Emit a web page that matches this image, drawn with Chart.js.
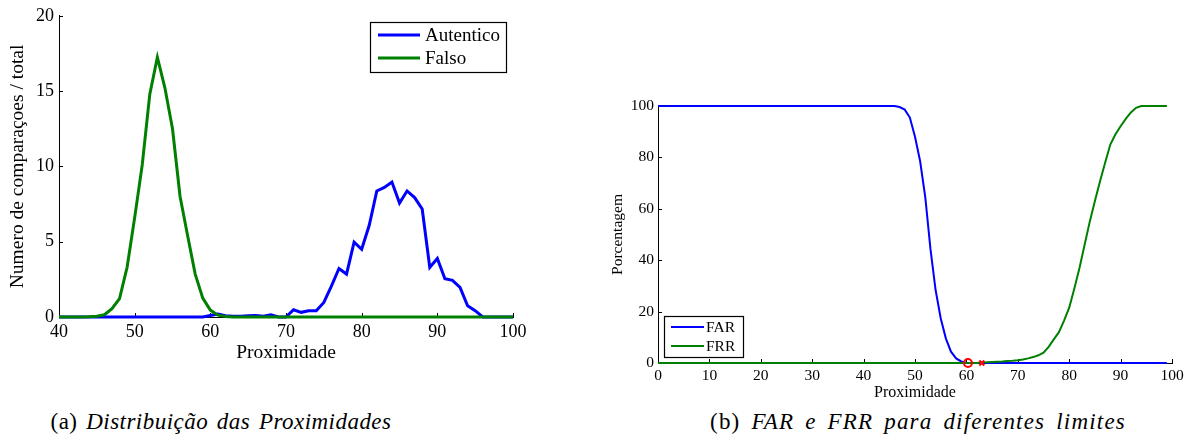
<!DOCTYPE html>
<html><head><meta charset="utf-8">
<script src="https://cdn.jsdelivr.net/npm/chart.js@4.4.0/dist/chart.umd.min.js"></script>
<style>
html,body{margin:0;padding:0;background:#fff;width:1194px;height:448px;overflow:hidden;position:relative;font-family:"Liberation Serif",serif;}
#ca{position:absolute;left:0;top:0;}
#cb{position:absolute;left:597px;top:0;}
.cap{position:absolute;top:407px;font-family:"Liberation Serif",serif;font-size:23px;line-height:30px;letter-spacing:0.47px;word-spacing:2.5px;white-space:nowrap;transform:translateX(-50%);color:#000;}
.cap.b{letter-spacing:1.2px;word-spacing:4px;}
.cap i{font-style:italic;}
</style></head>
<body>
<canvas id="ca" width="597" height="369"></canvas>
<canvas id="cb" width="597" height="406"></canvas>
<div class="cap" style="left:221px">(a) <i>Distribuição das Proximidades</i></div>
<div class="cap b" style="left:918px">(b) <i>FAR e FRR para diferentes limites</i></div>
<script>
// ---------- data: chart (a) ----------
const proxA = [40,41,42,43,44,45,46,47,48,49,50,51,52,53,54,55,56,57,58,59,60,61,62,63,64,65,66,67,68,69,70,71,72,73,74,75,76,77,78,79,80,81,82,83,84,85,86,87,88,89,90,91,92,93,94,95,96,97,98,99,100];
const autentico = [0,0,0,0,0,0,0,0,0,0,0,0,0,0,0,0,0,0,0,0,0.1,0.2,0.08,0.05,0.05,0.08,0.1,0.05,0.15,0,0,0.48,0.31,0.42,0.42,0.97,2.05,3.22,2.85,4.97,4.5,6.09,8.37,8.6,8.96,7.57,8.37,7.93,7.17,3.29,3.89,2.54,2.43,1.97,0.75,0.42,0,0,0,0,0];
const falso = [0,0,0,0,0.01,0.05,0.15,0.55,1.22,3.3,6.6,10.1,14.8,17.25,15.2,12.5,8.0,5.4,2.85,1.25,0.46,0.12,0.03,0,0,0,0,0,0,0,0,0,0,0,0,0,0,0,0,0,0,0,0,0,0,0,0,0,0,0,0,0,0,0,0,0,0,0,0,0,0];
const labelsA = ['Autentico','Falso'];
const titlesA = {x:'Proximidade', y:'Numero de comparaçoes / total'};

// ---------- data: chart (b) ----------
const proxB = [0,1,2,3,4,5,6,7,8,9,10,11,12,13,14,15,16,17,18,19,20,21,22,23,24,25,26,27,28,29,30,31,32,33,34,35,36,37,38,39,40,41,42,43,44,45,46,47,48,49,50,51,52,53,54,55,56,57,58,59,60,61,62,63,64,65,66,67,68,69,70,71,72,73,74,75,76,77,78,79,80,81,82,83,84,85,86,87,88,89,90,91,92,93,94,95,96,97,98,99];
const far = [100,100,100,100,100,100,100,100,100,100,100,100,100,100,100,100,100,100,100,100,100,100,100,100,100,100,100,100,100,100,100,100,100,100,100,100,100,100,100,100,100,100,100,100,100,100,100,99.6,98.6,95.5,88,78.5,64.5,44.5,28.5,17.4,9.6,4.4,1.8,0.6,0.1,0,0,0,0,0,0,0,0,0,0,0,0,0,0,0,0,0,0,0,0,0,0,0,0,0,0,0,0,0,0,0,0,0,0,0,0,0,0,0];
const frr = [0,0,0,0,0,0,0,0,0,0,0,0,0,0,0,0,0,0,0,0,0,0,0,0,0,0,0,0,0,0,0,0,0,0,0,0,0,0,0,0,0,0,0,0,0,0,0,0,0,0,0,0,0,0,0,0,0,0,0,0,0,0,0,0.2,0.3,0.4,0.5,0.6,0.8,0.9,1.1,1.4,1.8,2.3,3.0,4.0,6.3,9.2,12.0,16.5,21.5,29,37,46,55,63,70.7,78,85,89,92.1,95,97.5,99.3,100,100,100,100,100,100];
const eerPoint = [60.3, 0];
const thrPoint = [63, 0];
const labelsB = ['FAR','FRR'];
const titlesB = {x:'Proximidade', y:'Porcentagem'};

const toXY = (xs, ys) => xs.map((x,i)=>({x:x, y:ys[i]}));

const FONT = '"Liberation Serif", "Times New Roman", serif';

const inwardTicks = {
  id:'inwardTicks',
  beforeDatasetsDraw(chart, args, o){
    const ctx=chart.ctx, ca=chart.chartArea, len=o.len||4;
    const xs=chart.scales.x, ys=chart.scales.y;
    ctx.save(); ctx.strokeStyle='#000'; ctx.lineWidth=1;
    xs.ticks.forEach((t,i)=>{const px=Math.round(xs.getPixelForTick(i))+0.5; ctx.beginPath(); ctx.moveTo(px,ca.bottom); ctx.lineTo(px,ca.bottom-len); ctx.stroke();});
    ys.ticks.forEach((t,i)=>{const py=Math.round(ys.getPixelForTick(i))+0.5; ctx.beginPath(); ctx.moveTo(ca.left,py); ctx.lineTo(ca.left+len,py); ctx.stroke();});
    ctx.restore();
  }
};
const boxLegend = {
  id:'boxLegend',
  afterDraw(chart, args, o){
    const ctx=chart.ctx;
    ctx.save();
    ctx.fillStyle='#fff'; ctx.fillRect(o.x,o.y,o.w,o.h);
    ctx.strokeStyle='#000'; ctx.lineWidth=1.2; ctx.strokeRect(o.x+0.5,o.y+0.5,o.w,o.h);
    ctx.font=o.font; ctx.textBaseline='middle'; ctx.textAlign='left';
    o.items.forEach((idx,i)=>{
      const ds=chart.data.datasets[idx]; const y=o.y+o.rowY[i];
      ctx.strokeStyle=ds.borderColor; ctx.lineWidth=ds.borderWidth;
      ctx.beginPath(); ctx.moveTo(o.x+o.lx0,y); ctx.lineTo(o.x+o.lx1,y); ctx.stroke();
      ctx.fillStyle='#000'; ctx.fillText(ds.label,o.x+o.tx,y+1);
    });
    ctx.restore();
  }
};

function axis(min,max,step,fontSize,pad,fitProp,fitVal,title,titleSize,titlePad){
  return {
    type:'linear', min:min, max:max,
    grid:{display:false, drawTicks:false},
    border:{display:true, color:'#000', width:1},
    ticks:{stepSize:step, color:'#000', padding:pad, font:{family:FONT, size:fontSize}, maxRotation:0, autoSkip:false},
    title:{display:true, text:title, color:'#000', font:{family:FONT, size:titleSize}, padding:titlePad},
    afterFit:(s)=>{ s[fitProp]=fitVal; }
  };
}

Chart.defaults.animation=false;

new Chart(document.getElementById('ca'), {
  type:'line',
  data:{datasets:[
    {label:labelsA[0], data:toXY(proxA,autentico), borderColor:'#0000ff', borderWidth:3, pointRadius:0, tension:0, clip:false, order:1},
    {label:labelsA[1], data:toXY(proxA,falso), borderColor:'#008000', borderWidth:3, pointRadius:0, tension:0, clip:false, order:0}
  ]},
  options:{
    responsive:false, animation:false,
    layout:{padding:{left:0, top:15, right:84, bottom:0}},
    plugins:{legend:{display:false}, tooltip:{enabled:false},
      inwardTicks:{len:4},
      boxLegend:{x:370, y:22, w:136, h:50, rowY:[13,36], lx0:8, lx1:50, tx:55, font:'19px '+FONT, items:[0,1]}
    },
    scales:{
      x:axis(40,100,10,18,4,'height',52,titlesA.x,19.5,{top:0,bottom:4}),
      y:axis(0,20,5,18,5,'width',59,titlesA.y,19.5,{top:6.5,bottom:0})
    }
  },
  plugins:[inwardTicks, boxLegend]
});

new Chart(document.getElementById('cb'), {
  type:'line',
  data:{datasets:[
    {label:labelsB[0], data:toXY(proxB,far), borderColor:'#0000ff', borderWidth:2, pointRadius:0, tension:0, clip:false, order:2},
    {label:labelsB[1], data:toXY(proxB,frr), borderColor:'#008000', borderWidth:2, pointRadius:0, tension:0, clip:false, order:1},
    {label:'EER', data:[{x:eerPoint[0], y:eerPoint[1]}], showLine:false, pointStyle:'circle', pointRadius:4, pointBorderWidth:2, pointBorderColor:'#ff0000', pointBackgroundColor:'rgba(0,0,0,0)', borderColor:'#ff0000', clip:false, order:0},
    {label:'Limite', data:[{x:thrPoint[0], y:thrPoint[1]}], showLine:false, pointStyle:'crossRot', pointRadius:3.5, pointBorderWidth:2, pointBorderColor:'#ff0000', borderColor:'#ff0000', clip:false, order:0}
  ]},
  options:{
    responsive:false, animation:false,
    layout:{padding:{left:0, top:106, right:22, bottom:0}},
    plugins:{legend:{display:false}, tooltip:{enabled:false},
      inwardTicks:{len:4},
      boxLegend:{x:67, y:316, w:79, h:41, rowY:[11,30], lx0:7, lx1:40, tx:42, font:'15.5px '+FONT, items:[0,1]}
    },
    scales:{
      x:axis(0,100,10,15.5,3.5,'height',43,titlesB.x,16,{top:0,bottom:4}),
      y:axis(0,100,20,15.5,4,'width',61,titlesB.y,15.5,{top:11.5,bottom:0})
    }
  },
  plugins:[inwardTicks, boxLegend]
});
</script>
</body></html>
